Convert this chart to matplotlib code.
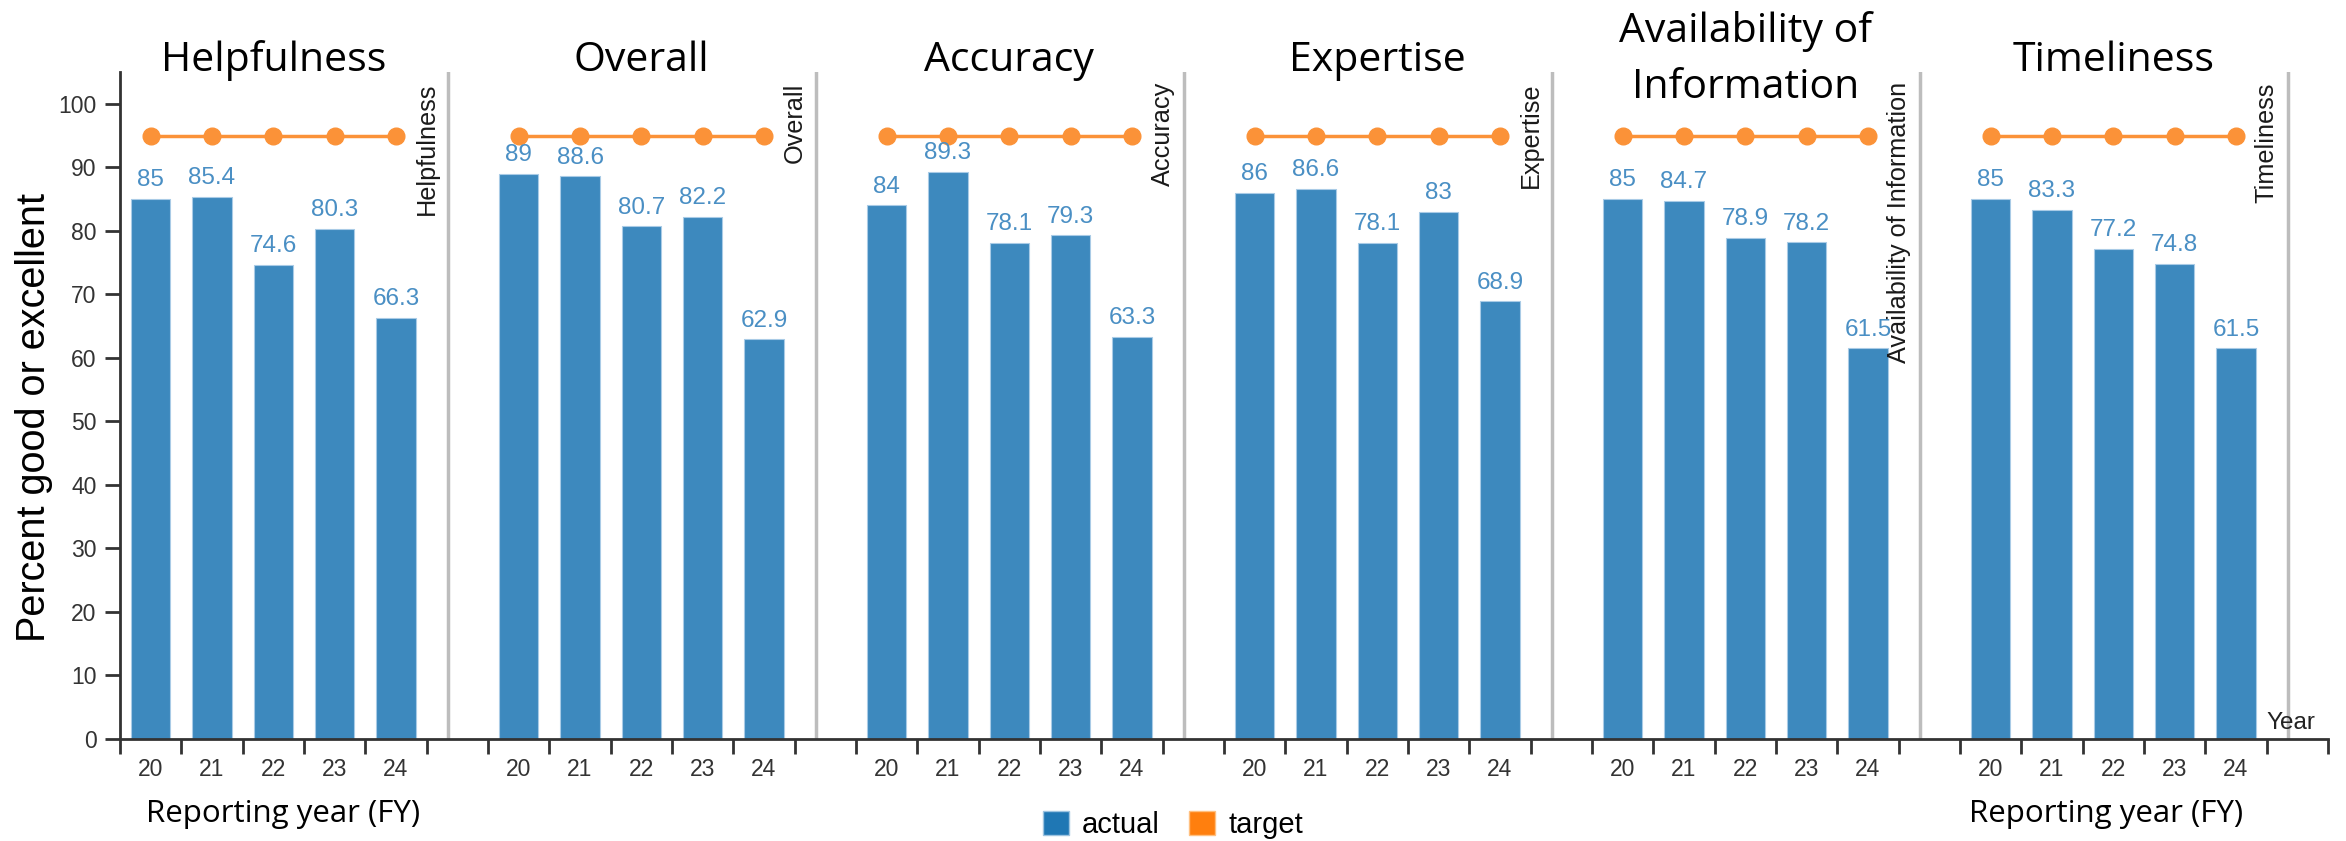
import matplotlib.pyplot as plt
from matplotlib.patches import Patch

# DATA
facets = ['Helpfulness', 'Overall', 'Accuracy', 'Expertise',
          'Availability of Information', 'Timeliness']
titles = ['Helpfulness', 'Overall', 'Accuracy', 'Expertise',
          'Availability of\nInformation', 'Timeliness']
years = ['20', '21', '22', '23', '24']

helpfulness = [85, 85.4, 74.6, 80.3, 66.3]
overall = [89, 88.6, 80.7, 82.2, 62.9]
accuracy = [84, 89.3, 78.1, 79.3, 63.3]
expertise = [86, 86.6, 78.1, 83, 68.9]
availability = [85, 84.7, 78.9, 78.2, 61.5]
timeliness = [85, 83.3, 77.2, 74.8, 61.5]
target = [95, 95, 95, 95, 95]

actual = [helpfulness, overall, accuracy, expertise, availability, timeliness]

# STYLE
arial = 'Liberation Sans'
aptos = 'Open Sans'
bar_col = '#3d89be'
lab_col = '#4a8fc4'
tgt_col = '#fb9238'
dark = '#333333'

fig = plt.figure(figsize=(23.46, 8.41), dpi=100)
ax = fig.add_axes([120 / 2346, 1 - 739 / 841, (2328 - 120) / 2346, (739 - 72) / 841])

nb = len(years) + 1  # bands per facet (5 years + one spacer)
for f, vals in enumerate(actual):
    xs = [f * nb + k + 0.5 for k in range(len(years))]
    ax.bar(xs, vals, width=0.64, color=bar_col, edgecolor='#a9cbe6', linewidth=0.8, zorder=2)
    for x, v in zip(xs, vals):
        ax.text(x, v + 1.2, f'{v:g}', ha='center', va='bottom', color=lab_col,
                fontsize=17.5, family=arial, zorder=4)
    ax.plot(xs, target, color=tgt_col, lw=2.5, marker='o', ms=12, zorder=3)
    # facet separator + rotated facet name
    ax.axvline(f * nb + 5.35, color='#bdbdbd', lw=2.5, zorder=1)
    ax.text(f * nb + 5.0, 103.4, facets[f], rotation=90, ha='center', va='top',
            fontsize=18.2, family=arial, color='#1a1a1a', zorder=5)
    # facet title, one text per line (bottom line first)
    lines = titles[f].split('\n')
    y0 = 105.2 if len(lines) == 1 else 100.9
    for i, line in enumerate(reversed(lines)):
        ax.text(f * nb + 2.5, y0 + i * 8.8, line, ha='center', va='baseline',
                fontsize=29.5, family=aptos)

ax.set_xlim(0, nb * len(facets))
ax.set_ylim(0, 105)

# band boundaries as major ticks, year labels at band centres
ax.set_xticks(range(nb * len(facets) + 1))
ax.set_xticklabels([])
minor_pos = [f * nb + k + 0.5 for f in range(len(facets)) for k in range(len(years))]
ax.set_xticks(minor_pos, minor=True)
ax.set_xticklabels(years * len(facets), minor=True, fontsize=16.5, family=arial, color=dark)
ax.tick_params(axis='x', which='major', length=11, width=2, color=dark)
ax.tick_params(axis='x', which='minor', length=0, pad=14)

ax.set_yticks(range(0, 101, 10))
ax.set_yticklabels([str(t) for t in range(0, 101, 10)], fontsize=16.5, family=arial, color=dark)
ax.tick_params(axis='y', length=11, width=2, color=dark, pad=6)

for s in ['top', 'right']:
    ax.spines[s].set_visible(False)
for s in ['left', 'bottom']:
    ax.spines[s].set_color(dark)
    ax.spines[s].set_linewidth(2)

ax.text(35.8, 1.5, 'Year', ha='right', va='baseline', fontsize=17.5, family=arial, color='#222222')

# axis labels
fig.text(34 / 2346, 1 - 418 / 841, 'Percent good or excellent', rotation=90,
         ha='center', va='center', fontsize=28.5, family=arial)
fig.text(283 / 2346, 1 - 822 / 841, 'Reporting year (FY)', ha='center', va='baseline',
         fontsize=22.5, family=aptos)
fig.text(2106 / 2346, 1 - 822 / 841, 'Reporting year (FY)', ha='center', va='baseline',
         fontsize=22.5, family=aptos)

handles = [Patch(facecolor='#1f77b4', edgecolor='#9cc3e0', label='actual'),
           Patch(facecolor='#ff7f0e', edgecolor='#ffc080', label='target')]
leg = fig.legend(handles=handles, loc='center', bbox_to_anchor=(0.5, 1 - 825 / 841), ncol=2,
                 frameon=False, handlelength=0.9, handleheight=0.9, handletextpad=0.45,
                 columnspacing=1.0, prop={'family': arial, 'size': 21})

fig.savefig('out.png', dpi=100)
